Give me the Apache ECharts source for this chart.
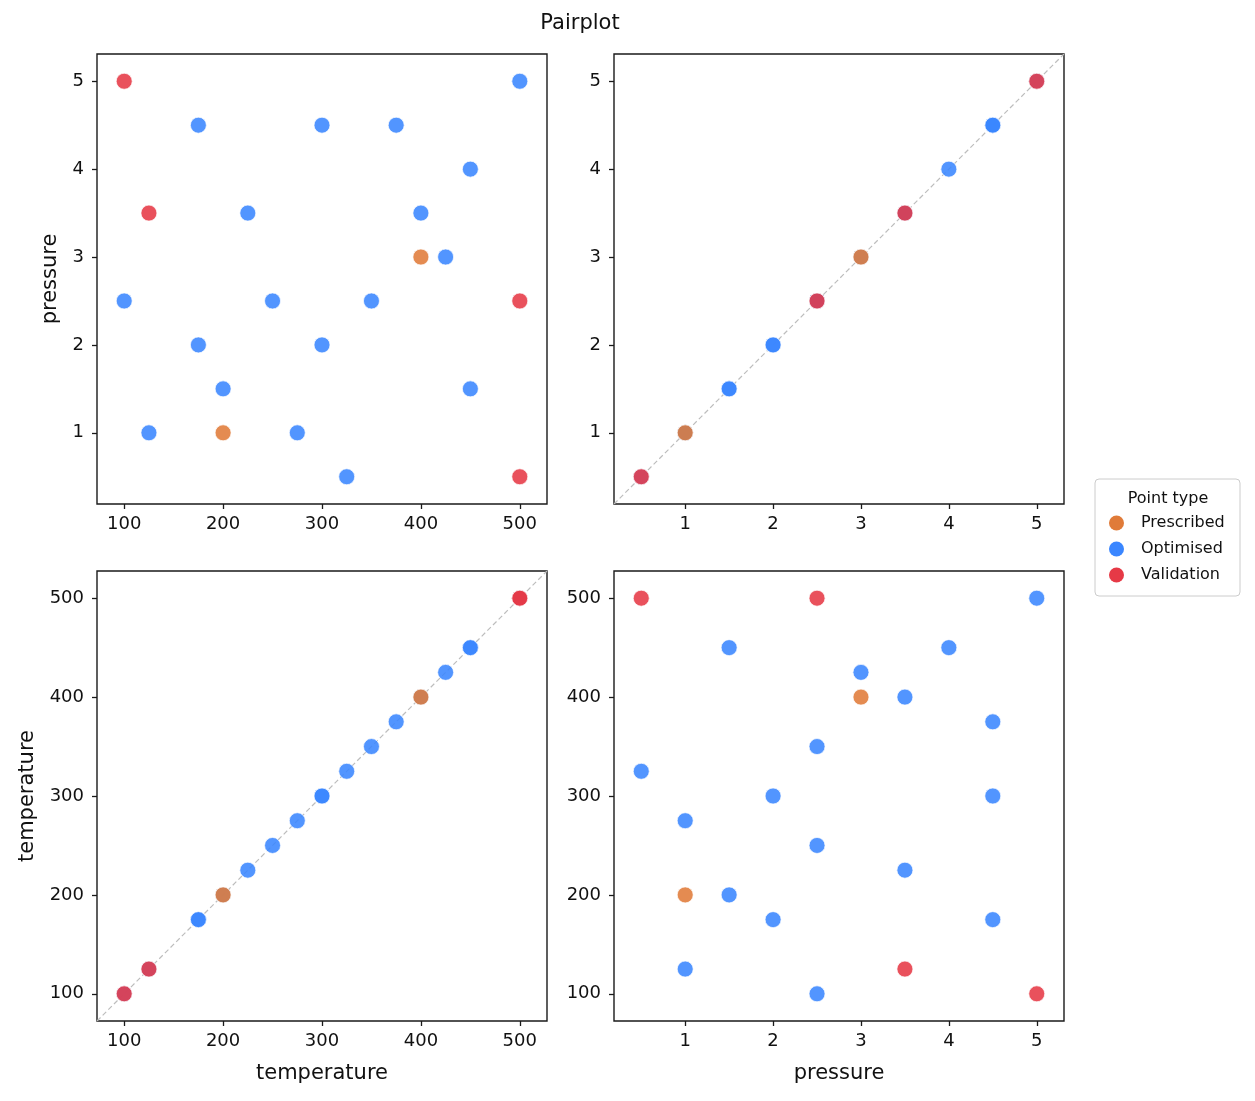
<!DOCTYPE html>
<html>
<head>
<meta charset="utf-8">
<script src="https://cdn.jsdelivr.net/npm/echarts@6/dist/echarts.min.js"></script>
<style>
  html, body { margin: 0; padding: 0; background: #fff; }
  #main { width: 1255px; height: 1101px; }
</style>
</head>
<body>
<div id="main"></div>
<script>
// point data: temperature / pressure per point type
var prescribedTemp = [400, 200];
var prescribedPress = [3, 1];
var optimisedTemp = [175, 300, 375, 500, 450, 225, 400, 425, 100, 250, 350, 175, 300, 200, 450, 125, 275, 325];
var optimisedPress = [4.5, 4.5, 4.5, 5, 4, 3.5, 3.5, 3, 2.5, 2.5, 2.5, 2, 2, 1.5, 1.5, 1, 1, 0.5];
var validationTemp = [100, 125, 500, 500];
var validationPress = [5, 3.5, 2.5, 0.5];

var tempTicks = [100, 200, 300, 400, 500];
var pressTicks = [1, 2, 3, 4, 5];
var typeNames = ['Prescribed', 'Optimised', 'Validation'];

var colors = { Prescribed: '#E07B39', Optimised: '#3A86FF', Validation: '#E63946' };
var tempRange = [72.5, 527.5];
var pressRange = [0.19, 5.31];

var groups = {
    Prescribed: { temperature: prescribedTemp, pressure: prescribedPress },
    Optimised: { temperature: optimisedTemp, pressure: optimisedPress },
    Validation: { temperature: validationTemp, pressure: validationPress }
};

// panels: [xVar, yVar]
var panels = [
    ['temperature', 'pressure'],
    ['pressure', 'pressure'],
    ['temperature', 'temperature'],
    ['pressure', 'temperature']
];
var gridPos = [
    { left: 97, top: 54 },
    { left: 614, top: 54 },
    { left: 97, top: 571 },
    { left: 614, top: 571 }
];

var textColor = '#111';
var lineColor = '#1a1a1a';
var font = 'DejaVu Sans';

function axisFor(v, isX, i) {
    var isTemp = v === 'temperature';
    var range = isTemp ? tempRange : pressRange;
    var ticks = isTemp ? tempTicks : pressTicks;
    var ax = {
        type: 'value',
        gridIndex: i,
        min: range[0],
        max: range[1],
        splitLine: { show: false },
        axisLine: { show: false, onZero: false },
        axisTick: { show: true, length: 5, customValues: ticks, lineStyle: { color: lineColor, width: 1.3 } },
        axisLabel: { customValues: ticks, color: textColor, fontSize: 18, fontFamily: font, margin: isX ? 11 : 13 },
        nameTextStyle: { color: textColor, fontSize: 21, fontFamily: font }
    };
    if (isX && i >= 2) {
        ax.name = v; ax.nameLocation = 'middle'; ax.nameGap = 42;
    }
    if (!isX && (i === 0 || i === 2)) {
        ax.name = v; ax.nameLocation = 'middle'; ax.nameRotate = 90;
        ax.nameGap = isTemp ? 59 : 36;
    }
    return ax;
}

var grids = [], xAxes = [], yAxes = [], series = [];
panels.forEach(function (p, i) {
    grids.push({ left: gridPos[i].left, top: gridPos[i].top, width: 450, height: 450,
        show: true, borderColor: lineColor, borderWidth: 1.4, backgroundColor: '#fff' });
    xAxes.push(axisFor(p[0], true, i));
    yAxes.push(axisFor(p[1], false, i));
    if (p[0] === p[1]) {
        var r = p[0] === 'temperature' ? tempRange : pressRange;
        series.push({
            type: 'line', xAxisIndex: i, yAxisIndex: i, silent: true, symbol: 'none',
            data: [[r[0], r[0]], [r[1], r[1]]],
            lineStyle: { color: '#bdbdbd', width: 1.2, type: [5, 3] },
            z: 1
        });
    }
    ['Optimised', 'Prescribed', 'Validation'].forEach(function (name) {
        var g = groups[name];
        series.push({
            name: name,
            type: 'scatter',
            xAxisIndex: i, yAxisIndex: i,
            symbolSize: 16,
            itemStyle: { color: colors[name], opacity: 0.88, borderColor: '#fff', borderWidth: 0.8 },
            data: g[p[0]].map(function (x, k) { return [x, g[p[1]][k]]; }),
            z: 2
        });
    });
});

var chart = echarts.init(document.getElementById('main'), null, { renderer: 'canvas' });
chart.setOption({
    backgroundColor: '#fff',
    animation: false,
    grid: grids,
    xAxis: xAxes,
    yAxis: yAxes,
    legend: {
        data: typeNames,
        orient: 'vertical',
        left: 1109,
        top: 515,
        padding: 0,
        itemWidth: 15,
        itemHeight: 15,
        itemGap: 10,
        icon: 'circle',
        itemStyle: { opacity: 1, borderWidth: 0 },
        textStyle: { color: textColor, fontSize: 16, fontFamily: font, lineHeight: 16, padding: [0, 0, 0, 12] }
    },
    graphic: [
        { type: 'text', x: 580, y: 24, style: { text: 'Pairplot', fontSize: 21, fontFamily: font, fill: textColor, align: 'center', verticalAlign: 'middle' } },
        { type: 'rect', shape: { x: 1095, y: 479, width: 145, height: 117, r: 4 }, style: { fill: '#fff', stroke: '#cccccc', lineWidth: 1 }, z: -1 },
        { type: 'text', x: 1168, y: 499, style: { text: 'Point type', fontSize: 16, fontFamily: font, fill: textColor, align: 'center', verticalAlign: 'middle' } }
    ],
    series: series
});
</script>
</body>
</html>
